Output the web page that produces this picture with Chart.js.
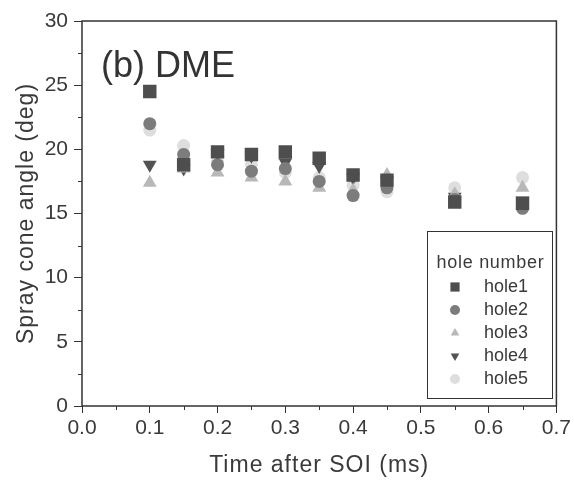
<!DOCTYPE html>
<html>
<head>
<meta charset="utf-8">
<script src="https://cdn.jsdelivr.net/npm/chart.js@4.4.1/dist/chart.umd.min.js"></script>
<style>
  html, body { margin: 0; padding: 0; background: #fff; }
  #wrap { width: 574px; height: 480px; }
</style>
</head>
<body>
<div id="wrap"><canvas id="c" width="574" height="480"></canvas></div>
<script>
// ---------- DATA ----------
const times = [0.1, 0.15, 0.2, 0.25, 0.3, 0.35, 0.4, 0.45, 0.55, 0.65];
const hole1 = [24.5, 18.8, 19.8, 19.6, 19.8, 19.3, 18.0, 17.6, 15.9, 15.8];
const hole2 = [22.0, 19.6, 18.8, 18.3, 18.5, 17.5, 16.4, 17.0, 16.1, 15.4];
const hole3 = [17.4, 18.5, 18.2, 17.8, 17.5, 17.0, 16.8, 18.0, 16.5, 17.0];
const hole4 = [18.8, 18.5, 19.7, 19.5, 19.0, 18.7, 17.8, 17.6, 16.3, 16.0];
const hole5 = [21.5, 20.3, 19.0, 18.8, 18.2, 17.8, 17.2, 16.7, 17.0, 17.8];
const seriesNames = ["hole1", "hole2", "hole3", "hole4", "hole5"];
const legendTitle = "hole number";
const panelLabel = "(b) DME";

const allSeries = [hole1, hole2, hole3, hole4, hole5];
const styles = [
  { color: "#4e4e4e", shape: "rect", rot: 0, r: 9.5 },
  { color: "#7c7c7c", shape: "circle", rot: 0, r: 6.5 },
  { color: "#b8b8b8", shape: "triangle", rot: 0, r: 8 },
  { color: "#525252", shape: "triangle", rot: 180, r: 8 },
  { color: "#dedede", shape: "circle", rot: 0, r: 6.5 }
];

const FONT = "'Liberation Sans', Arial, sans-serif";
const TXT = "#3a3a3a";

const datasets = seriesNames.map((name, i) => ({
  label: name,
  data: times.map((t, j) => ({ x: t, y: allSeries[i][j] })),
  showLine: false,
  pointStyle: styles[i].shape,
  rotation: styles[i].rot,
  pointRadius: styles[i].r,
  backgroundColor: styles[i].color,
  borderColor: styles[i].color,
  borderWidth: 0
}));

// axis titles in the scan are slightly spaced out
const origDrawTitle = Chart.LinearScale.prototype.drawTitle;
Chart.LinearScale.prototype.drawTitle = function () {
  const c = this.ctx;
  const prev = c.letterSpacing;
  c.letterSpacing = "1px";
  origDrawTitle.call(this);
  c.letterSpacing = prev;
};

// frame, minor ticks, panel label, legend box
const decor = {
  id: "decor",
  afterDraw(chart) {
    const ctx = chart.ctx;
    const a = chart.chartArea;
    const xs = chart.scales.x, ys = chart.scales.y;
    ctx.save();
    ctx.strokeStyle = "#333";
    ctx.lineWidth = 1.5;
    ctx.strokeRect(a.left, a.top, a.right - a.left, a.bottom - a.top);

    // minor ticks
    ctx.lineWidth = 1;
    ctx.beginPath();
    for (let v = 2.5; v < 30; v += 5) {
      const y = Math.round(ys.getPixelForValue(v)) + 0.5;
      ctx.moveTo(a.left, y); ctx.lineTo(a.left - 4, y);
    }
    for (let v = 0.05; v < 0.7; v += 0.1) {
      const x = Math.round(xs.getPixelForValue(v)) + 0.5;
      ctx.moveTo(x, a.bottom); ctx.lineTo(x, a.bottom + 4);
    }
    ctx.stroke();

    // panel label
    ctx.fillStyle = "#333";
    ctx.font = "36px " + FONT;
    ctx.textBaseline = "alphabetic";
    ctx.textAlign = "left";
    ctx.fillText(panelLabel, a.left + 19, 77);

    // legend
    const bx = 427, by = 231, bw = 125, bh = 167;
    ctx.fillStyle = "#fff";
    ctx.fillRect(bx, by, bw, bh);
    ctx.strokeStyle = "#333";
    ctx.lineWidth = 1;
    ctx.strokeRect(bx + 0.5, by + 0.5, bw, bh);
    ctx.fillStyle = TXT;
    ctx.letterSpacing = "0.7px";
    ctx.font = "18px " + FONT;
    ctx.textAlign = "center";
    ctx.textBaseline = "middle";
    ctx.fillText(legendTitle, bx + bw / 2 + 1, by + 32);
    ctx.letterSpacing = "0px";
    chart.data.datasets.forEach((ds, i) => {
      const yy = by + 56 + i * 23;
      ctx.fillStyle = ds.backgroundColor;
      Chart.helpers.drawPoint(ctx, {
        pointStyle: ds.pointStyle, rotation: ds.rotation,
        radius: ds.pointStyle === "rect" ? 6.5 : 5, borderWidth: 0
      }, bx + 28, yy);
      ctx.fillStyle = TXT;
      ctx.font = "18px " + FONT;
      ctx.textAlign = "left";
      ctx.fillText(ds.label, bx + 57, yy);
    });
    ctx.restore();
  }
};

new Chart(document.getElementById("c"), {
  type: "scatter",
  data: { datasets },
  options: {
    responsive: false,
    animation: false,
    layout: { padding: { top: 21, right: 17, left: 0, bottom: 0 } },
    plugins: { legend: { display: false }, tooltip: { enabled: false } },
    scales: {
      x: {
        type: "linear", min: 0, max: 0.7,
        afterFit: s => { s.height = 74; },
        ticks: {
          stepSize: 0.1, color: TXT, padding: 3,
          font: { family: FONT, size: 21 },
          callback: v => v.toFixed(1)
        },
        grid: { drawOnChartArea: false, tickLength: 7, color: "#333", lineWidth: 1 },
        border: { display: false },
        title: {
          display: true, text: "Time after SOI (ms)", color: TXT,
          font: { family: FONT, size: 23 }, padding: { top: 4, bottom: 1 }
        }
      },
      y: {
        type: "linear", min: 0, max: 30,
        afterFit: s => { s.width = 82; },
        ticks: {
          stepSize: 5, color: TXT, padding: 6,
          font: { family: FONT, size: 21 }
        },
        grid: { drawOnChartArea: false, tickLength: 8, color: "#333", lineWidth: 1 },
        border: { display: false },
        title: {
          display: true, text: "Spray cone angle (deg)", color: TXT,
          font: { family: FONT, size: 23 }, padding: { top: 13, bottom: 4 }
        }
      }
    }
  },
  plugins: [decor]
});
</script>
</body>
</html>
